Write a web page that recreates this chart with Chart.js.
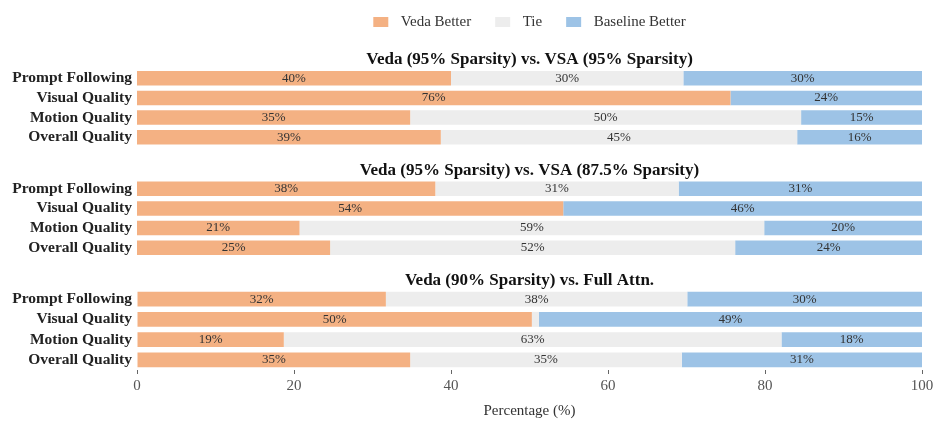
<!DOCTYPE html>
<html>
<head>
<meta charset="utf-8">
<script src="https://cdn.jsdelivr.net/npm/chart.js@4.4.1/dist/chart.umd.min.js"></script>
<style>
  html, body { margin: 0; padding: 0; background: #ffffff; }
  #wrap { position: relative; width: 946px; height: 433px; }
  .panel { position: absolute; left: 0; width: 946px; }
</style>
</head>
<body>
<div id="wrap">
  <div class="panel" id="p1" style="top:0px;height:147px;"><canvas id="chart1"></canvas></div>
  <div class="panel" id="p2" style="top:161.5px;height:95.5px;"><canvas id="chart2"></canvas></div>
  <div class="panel" id="p3" style="top:271.5px;height:161.5px;"><canvas id="chart3"></canvas></div>
</div>
<script>
// Chart data
const categories = ['Prompt Following', 'Visual Quality', 'Motion Quality', 'Overall Quality'];
const seriesNames = ['Veda Better', 'Tie', 'Baseline Better'];
const groupTitles = [
  'Veda (95% Sparsity) vs. VSA (95% Sparsity)',
  'Veda (95% Sparsity) vs. VSA (87.5% Sparsity)',
  'Veda (90% Sparsity) vs. Full Attn.'
];

// group 1: vs. VSA (95%)
const vedaBetter1 = [40.0, 75.6, 34.8, 38.7];
const tie1 = [29.6, 0.0, 49.8, 45.4];
const baselineBetter1 = [30.4, 24.4, 15.4, 15.9];

// group 2: vs. VSA (87.5%)
const vedaBetter2 = [38.0, 54.3, 20.7, 24.6];
const tie2 = [31.0, 0.0, 59.2, 51.6];
const baselineBetter2 = [31.0, 45.7, 20.1, 23.8];

// group 3: vs. Full Attn.
const vedaBetter3 = [31.7, 50.3, 18.7, 34.8];
const tie3 = [38.4, 0.9, 63.4, 34.6];
const baselineBetter3 = [29.9, 48.8, 17.9, 30.6];

const xTicks = [0, 20, 40, 60, 80, 100];

const COLORS = ['#F4B183', '#EDEDED', '#9DC3E6'];
const SERIF = "'Liberation Serif', 'Times New Roman', serif";

Chart.defaults.font.family = SERIF;
Chart.defaults.color = '#333333';

// draws "40%" in the middle of every segment that is wide enough
const segmentLabels = {
  id: 'segmentLabels',
  afterDatasetsDraw(chart) {
    const ctx = chart.ctx;
    ctx.save();
    ctx.font = '13px ' + SERIF;
    ctx.fillStyle = '#333333';
    ctx.textAlign = 'center';
    ctx.textBaseline = 'middle';
    chart.data.datasets.forEach((ds, i) => {
      const meta = chart.getDatasetMeta(i);
      meta.data.forEach((bar, j) => {
        const v = ds.data[j];
        if (v < 5) return;
        ctx.fillText(Math.round(v) + '%', (bar.x + bar.base) / 2, bar.y);
      });
    });
    ctx.restore();
  }
};

function makeChart(canvasId, title, series, opts) {
  const datasets = series.map((values, i) => ({
    label: seriesNames[i],
    data: values,
    backgroundColor: COLORS[i],
    borderWidth: 0,
    barPercentage: 0.74,
    categoryPercentage: 1.0
  }));

  return new Chart(document.getElementById(canvasId), {
    type: 'bar',
    data: { labels: categories, datasets },
    plugins: [segmentLabels],
    options: {
      indexAxis: 'y',
      responsive: true,
      maintainAspectRatio: false,
      animation: false,
      layout: { padding: { left: 0, right: 24, top: opts.padTop || 0, bottom: opts.padBottom || 0 } },
      plugins: {
        legend: {
          display: !!opts.legend,
          fullSize: false,
          position: 'top',
          weight: 3000,
          labels: {
            boxWidth: 15,
            boxHeight: 10,
            padding: 24,
            color: '#333333',
            font: { size: 15 },
            // small extra gap between swatch and text, as in the original
            generateLabels: (chart) =>
              Chart.defaults.plugins.legend.labels.generateLabels(chart)
                .map(item => Object.assign(item, { text: '\u2004' + item.text }))
          }
        },
        title: {
          display: true,
          fullSize: false,
          weight: 2000,
          text: title,
          color: '#111111',
          font: { size: 17, weight: 'bold', lineHeight: 1.0 },
          padding: { top: opts.titleTop || 0, bottom: 0 }
        },
        tooltip: { enabled: false }
      },
      scales: {
        x: {
          stacked: true,
          min: 0,
          max: 100,
          display: !!opts.xAxis,
          afterBuildTicks: (scale) => {
            scale.ticks = xTicks.map(v => ({ value: v }));
          },
          grid: {
            drawOnChartArea: false,
            drawTicks: true,
            tickLength: 4,
            color: '#666666'
          },
          border: { display: false },
          ticks: {
            padding: 3,
            color: '#555555',
            font: { size: 15 }
          },
          title: {
            display: !!opts.xAxis,
            text: 'Percentage (%)',
            color: '#333333',
            font: { size: 15 },
            padding: { top: 4.5, bottom: 4 }
          }
        },
        y: {
          stacked: true,
          afterFit: (scale) => {
            scale.width = 137;
            // no half-label margin above/below the category axis
            scale.paddingTop = 0;
            scale.paddingBottom = 0;
          },
          grid: { display: false, drawTicks: false },
          border: { display: false },
          ticks: {
            autoSkip: false,
            padding: 5,
            color: '#222222',
            font: { size: 15.5, weight: 'bold' }
          }
        }
      }
    }
  });
}

makeChart('chart1', groupTitles[0], [vedaBetter1, tie1, baselineBetter1],
  { legend: true, padTop: -9.5, titleTop: 12 });
makeChart('chart2', groupTitles[1], [vedaBetter2, tie2, baselineBetter2], {});
makeChart('chart3', groupTitles[2], [vedaBetter3, tie3, baselineBetter3],
  { xAxis: true, padBottom: 9 });
</script>
</body>
</html>
